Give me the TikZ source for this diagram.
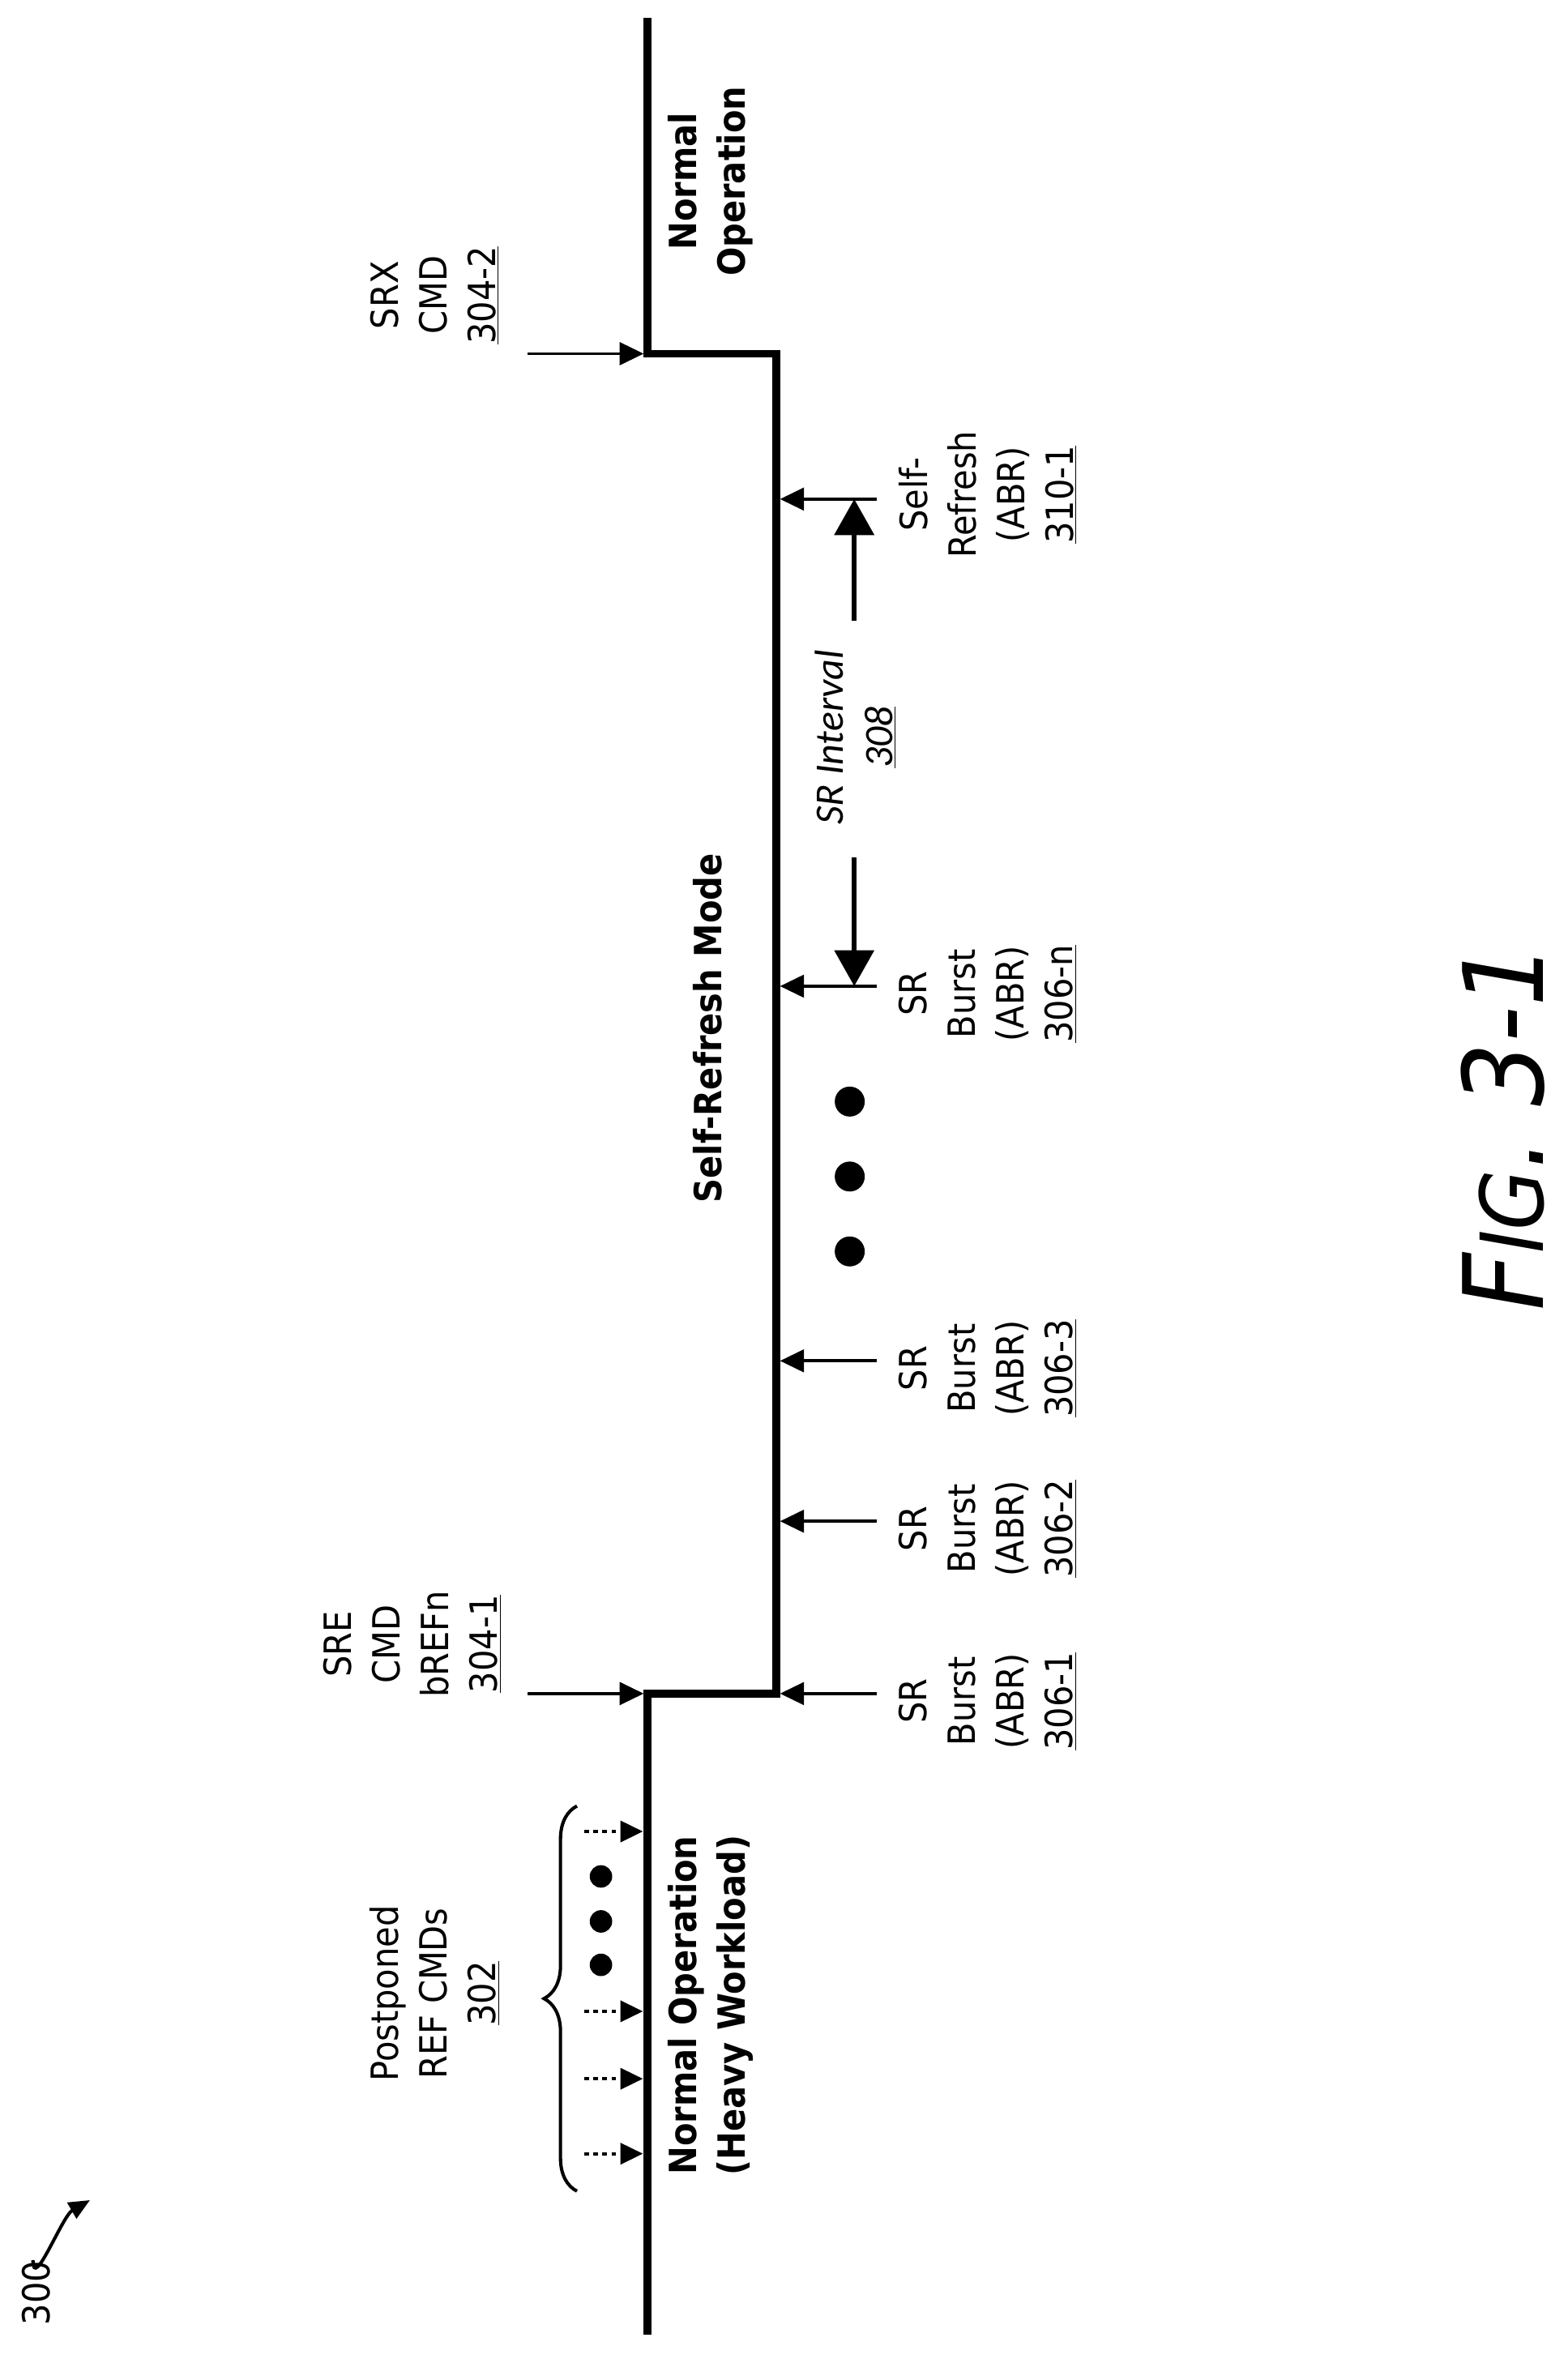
\documentclass[tikz,border=0pt]{standalone}
\usepackage{fontspec}
\setmainfont{DejaVu Sans Condensed}
\newfontfamily\ivfont{Carlito}
\usetikzlibrary{arrows.meta, decorations.pathreplacing}
\tikzset{
	lbl/.style={rotate=90, align=center, font=\fontsize{25}{32.5}\selectfont, inner sep=0pt},
	blbl/.style={lbl, font=\fontsize{25}{32.5}\selectfont\bfseries},
	cmd/.style={-{Triangle[length=16pt, width=15pt]}, line width=2pt},
	dots/.style={-{Triangle[length=15pt, width=14pt]}, line width=2.2pt, dash pattern=on 3pt off 3pt},
	bigdot/.style={circle, fill=black, minimum size=20pt, inner sep=0pt}
}
\begin{document}
\begin{tikzpicture}[x=1pt, y=-1pt]
		\useasboundingbox (0,0) rectangle (1046,1574);

		% signal
		\coordinate (s0) at (432,1558);
		\coordinate (sre) at (432,1130);
		\coordinate (sr1) at (518,1130);
		\coordinate (srn) at (518,236);
		\coordinate (srx) at (432,236);
		\coordinate (s5) at (432,12);
		\draw[line width=5pt, line join=miter] (s0) -- (sre) -- (sr1) -- (srn) -- (srx) -- (s5);

		% SRE / SRX commands
		\coordinate (srein) at (352,1130);
		\coordinate (srxin) at (352,236);
		\draw[cmd] (srein) -- ([xshift=-2.5pt]sre);
		\draw[cmd] (srxin) -- ([xshift=-2.5pt]srx);
		\node[lbl] (srelbl) at (275,1097) {SRE\\CMD\\bREFn\\\underline{304-1}};
		\node[lbl] (srxlbl) at (290,197) {SRX\\CMD\\\underline{304-2}};

		% mode labels
		\node[blbl] (normal2) at (474,121) {Normal\\Operation};
		\node[blbl] (srmode) at (472,686) {Self-Refresh Mode};
		\node[blbl] (normal1) at (474,1338) {Normal Operation\\(Heavy Workload)};

		% SR bursts
		\foreach \y/\t in {1130/306-1, 1015/306-2, 908/306-3, 658/306-n} {
			\coordinate (b\y) at (585,\y);
			\draw[cmd] (b\y) -- (520.5,\y);
			\node[lbl] (bl\y) at (659,\y+5) {SR\\Burst\\(ABR)\\\underline{\t}};
		}
		\coordinate (b333) at (585,333);
		\draw[cmd] (b333) -- (520.5,333);
		\node[lbl] (sref) at (659,330) {Self-\\Refresh\\(ABR)\\\underline{310-1}};
		\foreach \y in {735,785,835}
			\node[bigdot] (d\y) at (567,\y) {};

		% SR interval
		\coordinate (iv1) at (570,572);
		\coordinate (iv2) at (570,414);
		\draw[cmd, line width=3.5pt, -{Triangle[length=24pt, width=26pt]}] (iv1) -- (570,658);
		\draw[cmd, line width=3.5pt, -{Triangle[length=24pt, width=26pt]}] (iv2) -- (570,333);
		\node[lbl, font=\fontsize{27}{33}\selectfont\ivfont] (ivlbl) at (571,492) {\textit{SR Interval}\\\textit{\underline{308}}};

		% postponed REF commands
		\foreach \y in {1222,1342,1387,1437}
			\draw[dots] (390,\y) -- (429,\y);
		\foreach \y in {1252,1282,1311}
			\node[bigdot, minimum size=15pt] (p\y) at (401,\y) {};
		\draw[line width=2.2pt, decorate, decoration={brace, amplitude=22pt}] (385,1462) -- (385,1205);
		\node[lbl] (postlbl) at (290,1330) {Postponed\\REF CMDs\\\underline{302}};

		% figure number
		\node[lbl, font=\fontsize{25}{30}\selectfont] (ref) at (24,1530) {300};
		\coordinate (refend) at (60,1468);
		\draw[-{Triangle[length=14pt, width=12pt]}, line width=2.2pt] (22,1508) to[out=-90, in=210] (refend);
		\node[lbl, font=\fontsize{74}{84}\selectfont\itshape] (fig) at (1003,752) {F{\fontsize{58}{66}\selectfont IG}. 3-1};
	\end{tikzpicture}
\end{document}
